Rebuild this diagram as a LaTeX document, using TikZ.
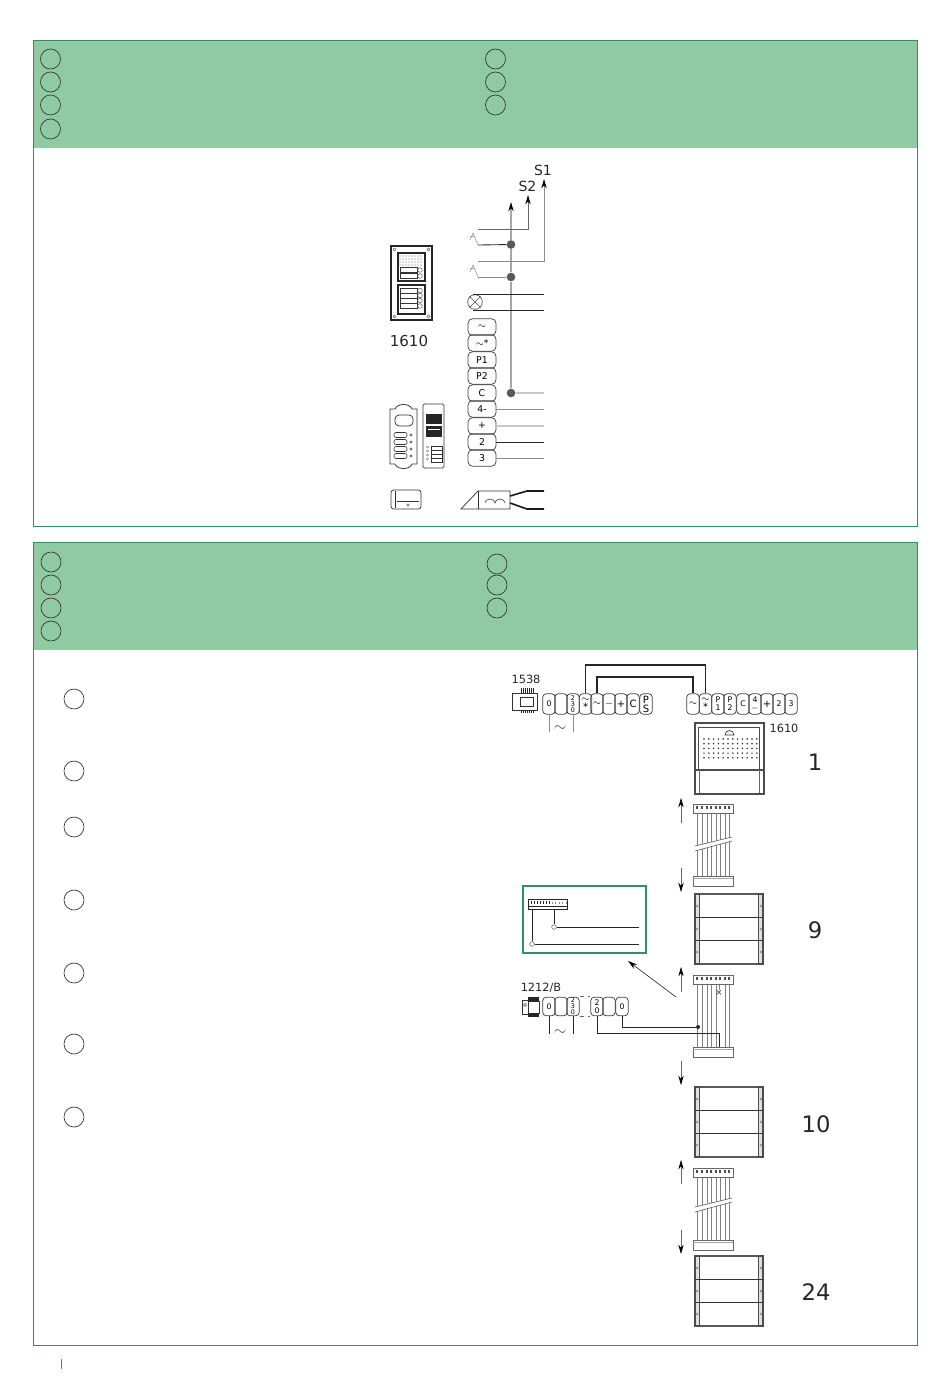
\documentclass[tikz,border=0pt]{standalone}
\usepackage{fontspec}
\setmainfont{DejaVu Sans}
\usetikzlibrary{arrows.meta}
\definecolor{bandgreen}{HTML}{8FCAA2}
\definecolor{framegreen}{HTML}{2F8F68}
\tikzset{>={Stealth[length=7pt,width=4pt,color=black]}}
\tikzset{
    mark circle/.style={draw=black!80, line width=0.5pt, circle, minimum size=15pt, inner sep=0pt},
    term/.style={draw=black!75, line width=0.55pt, rounded corners=2.6pt, minimum width=9.3pt, minimum height=15.4pt, inner sep=0pt, align=center, font=\fontsize{5.8}{6.2}\selectfont},
    term tiny/.style={term, font=\fontsize{4.8}{4.6}\selectfont},
    term wide/.style={term, font=\fontsize{7.5}{6.8}\selectfont},
    termb/.style={draw=black!75, line width=0.55pt, rounded corners=3.4pt, minimum width=21pt, minimum height=12.4pt, inner sep=0pt, font=\fontsize{7}{7}\selectfont},
    thin wire/.style={draw=black!45, line width=0.5pt},
    pale wire/.style={draw=black!22, line width=0.8pt},
    dark wire/.style={draw=black!85, line width=0.55pt},
    heavy wire/.style={draw=black!85, line width=1.4pt},
    part/.style={draw=black!80, line width=0.55pt},
    caption/.style={text=black!85, font=\fontsize{8.5}{10}\selectfont, inner sep=0pt},
    bignum/.style={text=black!85, font=\fontsize{17}{18}\selectfont, inner sep=0pt},
    solder/.style={circle, fill=black!65, minimum size=6.5pt, inner sep=0pt},
}
% button module, #1 = top y
\newcommand{\buttonmodule}[1]{
    \begin{scope}[shift={(0,#1)}]
    \draw[black!65, line width=1pt] (695,0) rectangle (763,70);
    \draw[black!70, fill=black!12, line width=0.8pt] (695,0) rectangle (699.5,70);
    \draw[black!70, fill=black!12, line width=0.8pt] (758.5,0) rectangle (763,70);
    \draw[black!80, line width=1pt] (695,23.5) -- (763,23.5);
    \draw[black!80, line width=1pt] (695,46.5) -- (763,46.5);
    \foreach \yy in {12,35,58} {
        \fill[white, draw=black!55, line width=0.3pt] (697,\yy) circle (1.2);
        \fill[white, draw=black!55, line width=0.3pt] (761,\yy) circle (1.2);
    }
    \end{scope}
}
\newcommand{\ribbonends}[1]{
    \draw[black!60, fill=white, line width=0.5pt] (693,0) rectangle (733,9);
    \foreach \xx in {697,702,707,711,716,720,725,729}
        \fill[black!70] (\xx-0.7,2.4) rectangle (\xx+0.7,4.8);
    \draw[black!60, fill=white, line width=0.5pt] (693,#1) rectangle (733,#1+10);
    \draw[black!35, line width=0.5pt] (693,#1+2.5) -- (733,#1+2.5);
}
% ribbon cable, #1 = top y, #2 = height, #3 = y of the cut
\newcommand{\ribbonplain}[3]{
    \begin{scope}[shift={(0,#1)}]
    \foreach \xx in {697,702,707,711,716,720,725,729}
        \draw[black!50, line width=0.45pt] (\xx,9) -- (\xx,#2);
    \fill[white] (694,#3+3) -- (732,#3-6) -- (732,#3-2) -- (694,#3+8) -- cycle;
    \draw[black!65, line width=0.45pt] (695,#3+3) -- (732,#3-6);
    \draw[black!65, line width=0.45pt] (695,#3+8) -- (732,#3-2);
    \ribbonends{#2}
    \end{scope}
}
\begin{document}
\begin{tikzpicture}[x=0.75pt, y=-0.75pt]
    \useasboundingbox (0,0) rectangle (950,1378);

    % the two panels
    \fill[bandgreen] (33,40) rectangle (917,148);
    \draw[framegreen, line width=0.6pt] (33,40) rectangle (917,526);
    \fill[bandgreen] (33,542) rectangle (917,650);
    \draw[framegreen, line width=0.6pt] (33,542) rectangle (917,1345);
    \draw[framegreen, line width=0.7pt] (61,1359) -- (61,1369);

    \foreach \nn/\xx/\yy in {a/50.5/59, b/50.5/82, c/50.5/105, d/50.5/129, e/495.5/59, f/495.5/82, g/495.5/105,
        h/51/562, i/51/585, j/51/608, k/51/631, l/497/564, m/497/585, n/497/608,
        o/74/699, p/74/771, q/74/827, r/74/900, s/74/973, t/74/1044, u/74/1117}
        \node[mark circle] (ring\nn) at (\xx,\yy) {};

    % 1610 front panel
    \draw[black!85, line width=0.9pt] (391,246) rectangle (432,320);
    \draw[black!85, line width=0.9pt] (398,253) rectangle (425,281);
    \draw[black!85, line width=0.9pt] (398,285) rectangle (425,314);
    \foreach \xx/\yy in {394.5/249.5, 428.5/249.5, 394.5/316.5, 428.5/316.5}
        \draw[black!60, line width=0.4pt] (\xx,\yy) circle (1.5);
    \foreach \xx in {400,403,...,423}
        \foreach \yy in {256,259,262,265}
            \fill[black!60] (\xx,\yy) circle (0.7);
    \foreach \yy in {267.5,273.5,288,293,298,303.5} {
        \draw[part, line width=0.7pt] (400,\yy) rectangle (417,\yy+5);
        \draw[black!60, line width=0.4pt] (420,\yy+2.5) circle (2.3);
    }
    \node[caption, font=\fontsize{11.3}{12}\selectfont] (numfront) at (409,341) {1610};

    % side parts
    \draw[part] (390,409) -- (395,409) .. controls (397,403) and (410,403) .. (412,409) -- (417,409) -- (417,464) -- (412,464) .. controls (410,470) and (397,470) .. (395,464) -- (390,464) -- cycle;
    \draw[part, rounded corners=3pt] (395,415) rectangle (413,426);
    \foreach \yy in {435,442,449,456} {
        \draw[part, rounded corners=1.5pt, line width=0.45pt] (394,\yy-2.5) rectangle (407,\yy+2.5);
        \fill[black!55] (411,\yy) circle (1.6);
    }
    \draw[part, rounded corners=1pt] (423,404) rectangle (444,468);
    \fill[black!85] (426,414) rectangle (442,424);
    \fill[black!85] (426,425.5) rectangle (442,437);
    \draw[white, line width=0.4pt] (428,429) -- (440,429);
    \foreach \yy in {446,450,454,458}
        \draw[part, line width=0.5pt] (431,\yy) rectangle (442,\yy+4);
    \foreach \yy in {447,451,455,459}
        \draw[black!55, line width=0.35pt] (427.5,\yy) circle (1.1);
    \draw[part, rounded corners=2pt] (391,490) rectangle (421,509);
    \draw[part, line width=0.45pt] (395,491) -- (395,508);
    \draw[part, line width=0.45pt] (397,501) -- (419,501);
    \draw[black!60, line width=0.4pt] (408,505) circle (1.3);

    % terminal strip
    \foreach \nn/\yy/\txt in {sa/327/$\sim$, sb/343/{$\sim$*}, sc/360/P1, sd/376/P2, se/393/C, sf/409/4-, sg/426/+, sh/442/2, si/458/3}
        \node[termb] (\nn) at (482,\yy) {\txt};

    % lamp and switches
    \node[draw=black!70, line width=0.5pt, circle, minimum size=11pt, inner sep=0pt] (lamp) at (475,302) {};
    \draw[black!70, line width=0.5pt] (lamp.north west) -- (lamp.south east);
    \draw[black!70, line width=0.5pt] (lamp.north east) -- (lamp.south west);
    \coordinate (swa) at (478,245);
    \coordinate (swb) at (478,277);
    \coordinate (swc) at (478,229);
    \coordinate (swd) at (478,261);
    \draw[black!40, line width=0.45pt] (swa) -- (473,233) -- (470,240) (swb) -- (473,265) -- (470,272);
    \draw[black!40, line width=0.45pt] (470,236) -- (474,236) (470,268) -- (474,268);

    \node[solder] (dota) at (511,244.5) {};
    \node[solder] (dotb) at (511,277) {};
    \node[solder] (dotc) at (511,393) {};

    \coordinate (outm) at (511,202);
    \coordinate (outa) at (528,195);
    \coordinate (outb) at (544,179);
    \draw[black!35, line width=0.8pt] (dotc) -- (dotb) -- (dota);
    \draw[black!35, line width=0.8pt, ->] (dota) -- (outm);
    \draw[black!60, line width=0.55pt, ->] (swc) -| (outa);
    \draw[black!45, line width=0.55pt, ->] (swd) -| (outb);
    \draw[black!85, line width=0.65pt] (swa) -- (dota);
    \draw[black!45, line width=0.6pt] (swb) -- (dotb);
    \node[caption, font=\fontsize{10.5}{11}\selectfont] (sone) at (543,170) {S1};
    \node[caption, font=\fontsize{10.5}{11}\selectfont] (stwo) at (527.5,186) {S2};

    \coordinate (lampa) at (473,294);
    \coordinate (lampb) at (473,310);
    \coordinate (enda) at (544,294);
    \coordinate (endb) at (544,310);
    \coordinate (endc) at (544,393);
    \coordinate (endd) at (544,409);
    \coordinate (ende) at (544,426);
    \coordinate (endf) at (544,442);
    \coordinate (endg) at (544,458);
    \draw[dark wire] (lampa) -- (enda);
    \draw[dark wire] (lampb) -- (endb);
    \draw[pale wire] (dotc) -- (endc);
    \draw[thin wire] (sf.east) -- (endd);
    \draw[pale wire] (sg.east) -- (ende);
    \draw[dark wire] (sh.east) -- (endf);
    \draw[thin wire] (si.east) -- (endg);

    % transformer
    \draw[part] (461,509) -- (478,491) -- (510,491) -- (510,509) -- cycle;
    \draw[part] (478,491) -- (478,509);
    \draw[part, line width=0.45pt] (485,503) arc [start angle=180, end angle=360, x radius=5, y radius=4] arc [start angle=180, end angle=360, x radius=5, y radius=4];
    \draw[black!90, line width=1.2pt] (510,496) -- (527,491) -- (544,491);
    \draw[black!90, line width=1.2pt] (510,503) -- (527,509) -- (544,509);

    % wiring, power supply row
    \foreach \nn/\xx/\txt in {ua/549/0, ub/561/{}, vc/718/{P\\1}, vd/730/{P\\2}, ve/743/C, vf/755/{4\\$-$}, vh/779/2, vi/791/3}
        \node[term] (\nn) at (\xx,704) {\txt};
    \foreach \nn/\xx/\txt in {ud/585.5/{$\sim$\\*}, ue/597/$\sim$, uf/609/$-$, ug/621/+, uh/633/C, ui/646/{P\\S}, va/693/$\sim$, vb/705.5/{$\sim$\\*}, vg/767/+}
        \node[term wide] (\nn) at (\xx,704) {\txt};
    \node[term tiny] (uc) at (573,704) {2\\3\\0};
    \node[caption] (numpsu) at (526,679) {1538};
    \draw[part, line width=0.65pt] (512,693) rectangle (537,710);
    \draw[part, line width=0.65pt] (520,697) rectangle (533,706);
    \foreach \xx in {521,523,...,534} {
        \draw[black!85, line width=0.6pt] (\xx,688) -- (\xx,693);
        \draw[black!85, line width=0.6pt] (\xx,710) -- (\xx,713);
    }
    \coordinate (buta) at (640,665);
    \coordinate (butb) at (640,677);
    \coordinate (acza) at (549,732);
    \coordinate (aczb) at (573,732);
    \draw[heavy wire] (ud.north) |- (buta) -| (vb.north);
    \draw[heavy wire] (ue.north) |- (butb) -| (va.north);
    \draw[thin wire] (ua.south) -- (acza);
    \draw[thin wire] (uc.south) -- (aczb);
    \node[inner sep=0pt, text=black!70, font=\fontsize{13}{13}\selectfont] (acone) at (560,729) {$\sim$};

    % 1610 rear view
    \draw[black!70, line width=1pt] (695,723) rectangle (764,794);
    \draw[black!70, line width=0.7pt] (698,727) rectangle (759,770);
    \draw[black!70, line width=0.8pt] (695,770) -- (764,770);
    \draw[black!60, line width=0.5pt] (699.5,770) -- (699.5,793) (759,770) -- (759,793);
    \draw[black!80, line width=0.5pt] (725,735) arc [start angle=180, end angle=360, radius=4.5] -- cycle;
    \foreach \xx in {704,708.8,...,758}
        \foreach \yy in {739,743.7,748.4,753.1,757.8}
            \fill[black!85] (\xx,\yy) circle (0.85);
    \node[caption] (numrear) at (784,728) {1610};
    \node[bignum] (numone) at (815,762) {1};
    \node[bignum] (numnine) at (815,930) {9};
    \node[bignum] (numten) at (816,1124) {10};
    \node[bignum] (numlast) at (816,1292) {24};

    % modules and ribbons
    \buttonmodule{894}
    \buttonmodule{1087}
    \buttonmodule{1256}
    \ribbonplain{804}{72}{39}
    \ribbonplain{1168}{72}{36}
    \begin{scope}[shift={(0,975)}]
    \foreach \xx in {697,702,707,711,716,725,729}
        \draw[black!50, line width=0.45pt] (\xx,9) -- (\xx,72);
    \draw[black!50, line width=0.45pt] (719,9) -- (719,15);
    \ribbonends{72}
    \end{scope}
    \node[inner sep=0pt, font=\fontsize{6.5}{6}\selectfont, text=black!80] (cutmark) at (719,993) {×};

    \coordinate (upa) at (681,798);
    \coordinate (upb) at (681,967);
    \coordinate (upc) at (681,1160);
    \coordinate (dna) at (681,892);
    \coordinate (dnb) at (681,1085);
    \coordinate (dnc) at (681,1254);
    \coordinate (froma) at (681,823);
    \coordinate (fromb) at (681,992);
    \coordinate (fromc) at (681,1184);
    \coordinate (toa) at (681,868);
    \coordinate (tob) at (681,1061);
    \coordinate (toc) at (681,1230);
    \draw[black!60, line width=0.45pt, ->] (froma) -- (upa);
    \draw[black!60, line width=0.45pt, ->] (toa) -- (dna);
    \draw[black!60, line width=0.45pt, ->] (fromb) -- (upb);
    \draw[black!60, line width=0.45pt, ->] (tob) -- (dnb);
    \draw[black!60, line width=0.45pt, ->] (fromc) -- (upc);
    \draw[black!60, line width=0.45pt, ->] (toc) -- (dnc);

    % detail box
    \draw[framegreen, line width=1.1pt] (523,886) rectangle (646,953);
    \draw[black!85, line width=0.6pt] (528,899) rectangle (567,909);
    \draw[black!85, line width=0.5pt] (528,906.5) -- (567,906.5);
    \foreach \xx in {530.5,533.5,...,550}
        \fill[black!85] (\xx,901) rectangle +(1.2,3);
    \foreach \xx in {551.5,555,...,566}
        \fill[black!45] (\xx,901.5) rectangle +(1,2.5);
    \node[draw=black!70, circle, minimum size=3.5pt, inner sep=0pt, line width=0.35pt] (solda) at (532,944) {};
    \node[draw=black!70, circle, minimum size=3.5pt, inner sep=0pt, line width=0.35pt] (soldb) at (554,927) {};
    \coordinate (boxa) at (639,944);
    \coordinate (boxb) at (639,927);
    \coordinate (stripa) at (532,909);
    \coordinate (stripb) at (554,909);
    \draw[dark wire] (stripa) -- (solda) -- (boxa);
    \draw[dark wire] (stripb) -- (soldb) -- (boxb);

    \coordinate (tipd) at (628,961);
    \coordinate (taild) at (676,997);
    \draw[black!80, line width=0.5pt, ->] (taild) -- (tipd);

    % 1212/B supply
    \node[caption] (numaux) at (541,988) {1212/B};
    \draw[part, line width=0.7pt] (522,1000) rectangle (528,1014);
    \draw[part, line width=0.7pt] (528,1001) rectangle (539,1013);
    \fill[black!85] (528,997) rectangle (539,1001.5);
    \fill[black!85] (528,1012.5) rectangle (539,1017);
    \draw[black!70, line width=0.4pt] (525,1005) circle (1.5);
    \foreach \nn/\xx/\txt in {wa/549/0, wb/561/{}, wd/597/{2\\0}, we/609/{}, wf/622/0}
        \node[term, minimum height=14pt] (\nn) at (\xx,1006.5) {\txt};
    \node[term tiny, minimum height=14pt] (wc) at (573,1006.5) {2\\3\\0};
    \draw[black!60, line width=0.5pt, dashed] (wc.north east) -- (wd.north west);
    \draw[black!60, line width=0.5pt, dashed] (wc.south east) -- (wd.south west);
    \coordinate (aczc) at (549,1034);
    \coordinate (aczd) at (573,1034);
    \draw[dark wire] (wa.south) -- (aczc);
    \draw[dark wire] (wc.south) -- (aczd);
    \node[inner sep=0pt, text=black!70, font=\fontsize{13}{13}\selectfont] (actwo) at (560,1033) {$\sim$};
    \node[circle, fill=black!85, minimum size=3pt, inner sep=0pt] (jointa) at (698,1027) {};
    \coordinate (jointb) at (719,1033);
    \coordinate (jointc) at (719,1047);
    \draw[dark wire] (wf.south) |- (jointa);
    \draw[dark wire] (wd.south) |- (jointb) -- (jointc);
\end{tikzpicture}
\end{document}
